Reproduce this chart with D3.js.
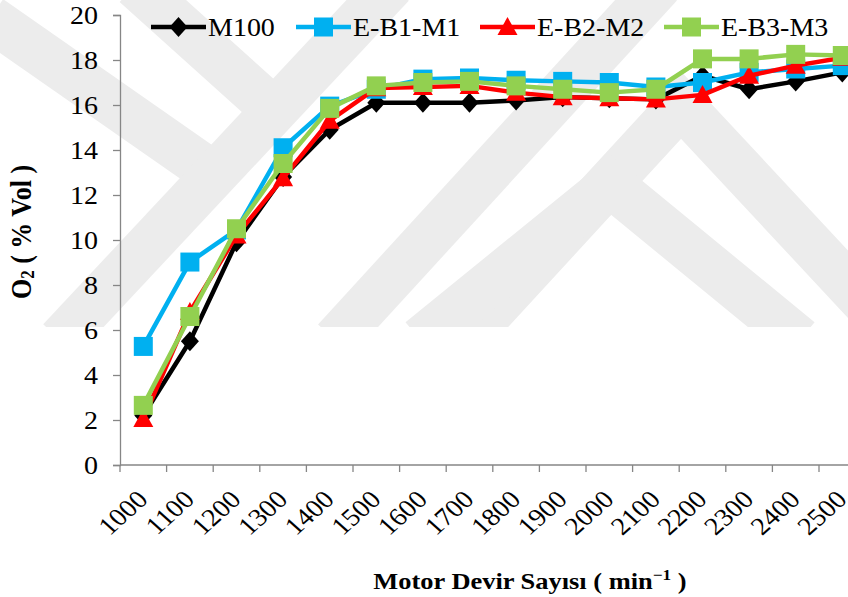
<!DOCTYPE html>
<html>
<head>
<meta charset="utf-8">
<script src="https://cdn.jsdelivr.net/npm/d3@7"></script>
<style>
  html, body { margin: 0; padding: 0; background: #fff; }
  svg { display: block; }
</style>
</head>
<body>
<svg id="chart" width="848" height="597"></svg>
<script>
// Engine speed categories (min^-1)
const categories = [1000, 1100, 1200, 1300, 1400, 1500, 1600, 1700, 1800, 1900, 2000, 2100, 2200, 2300, 2400, 2500];

// O2 concentration (% Vol) for each fuel blend
const m100  = [2.2, 5.5, 9.9, 12.8, 14.9, 16.1, 16.1, 16.1, 16.2, 16.35, 16.3, 16.25, 17.3, 16.7, 17.05, 17.45];
const eb1m1 = [5.27, 9.02, 10.45, 14.1, 15.95, 16.7, 17.15, 17.2, 17.1, 17.05, 17.0, 16.8, 17.0, 17.45, 17.6, 17.75];
const eb2m2 = [2.05, 6.8, 10.2, 12.75, 15.3, 16.75, 16.8, 16.85, 16.55, 16.35, 16.3, 16.25, 16.45, 17.3, 17.75, 18.1];
const eb3m3 = [2.65, 6.6, 10.5, 13.4, 15.85, 16.85, 17.0, 17.05, 16.85, 16.7, 16.55, 16.7, 18.05, 18.05, 18.25, 18.2];

const seriesNames = ["M100", "E-B1-M1", "E-B2-M2", "E-B3-M3"];
const yTicks = [0, 2, 4, 6, 8, 10, 12, 14, 16, 18, 20];

const series = [
  { name: seriesNames[0], values: m100,  color: "#000000", symbol: "diamond" },
  { name: seriesNames[1], values: eb1m1, color: "#00B0F0", symbol: "square" },
  { name: seriesNames[2], values: eb2m2, color: "#FF0000", symbol: "triangle" },
  { name: seriesNames[3], values: eb3m3, color: "#92D050", symbol: "square" }
];

const FONT = '"Liberation Serif"';
const svg = d3.select("#chart");
const W = 848, H = 597;
const stretch = 1.12;   // wide-set lettering

// background watermark bands
svg.append("clipPath").attr("id", "wmclip").append("rect")
  .attr("x", 0).attr("y", 0).attr("width", W).attr("height", 327);
const wm = svg.append("g").attr("fill", "none").attr("stroke", "#ececec")
  .attr("stroke-width", 46).attr("stroke-linejoin", "miter")
  .attr("clip-path", "url(#wmclip)");
const bands = [
  [[-10, 18], [215, 175]],
  [[60, 340], [392, -15]],
  [[135, -15], [285, 120]],
  [[335, 340], [660, -15]],
  [[465, 340], [681, 105], [900, 340]],
  [[420, 340], [611, 185], [800, 340]]
];
bands.forEach(b => wm.append("path").attr("d", d3.line()(b)));

// plot area
const x0 = 120, bandW = 46.6;
const x = d3.scaleBand().domain(categories).range([x0, x0 + bandW * categories.length]);
const y = d3.scaleLinear().domain([0, 20]).range([465, 15]);

// y axis
const yAxis = svg.append("g").attr("transform", `translate(${x0},0)`)
  .call(d3.axisLeft(y).tickValues(yTicks).tickSize(7).tickPadding(15).tickFormat(d3.format("d")));
yAxis.select(".domain").attr("stroke", "#868686").attr("stroke-width", 1.3);
yAxis.selectAll(".tick line").attr("stroke", "#868686").attr("stroke-width", 1.3);
yAxis.selectAll(".tick text")
  .attr("font-size", 25).style("font-family", FONT).attr("fill", "#000")
  .each(function () {
    const t = d3.select(this);
    const xx = +t.attr("x");
    t.attr("x", null).attr("transform", `translate(${xx},0) scale(${stretch},1)`);
  });

// x axis with ticks at category boundaries
const xAxisG = svg.append("g").attr("transform", `translate(0,${y(0)})`);
xAxisG.append("line").attr("x1", x0).attr("x2", W + 20).attr("stroke", "#868686").attr("stroke-width", 1.3);
xAxisG.selectAll("line.tk").data(categories).join("line").attr("class", "tk")
  .attr("x1", d => x(d)).attr("x2", d => x(d)).attr("y1", 0).attr("y2", 7)
  .attr("stroke", "#868686").attr("stroke-width", 1.3);
xAxisG.selectAll("text.lbl").data(categories).join("text").attr("class", "lbl")
  .attr("text-anchor", "end").attr("font-size", 25).style("font-family", FONT)
  .attr("transform", d => `translate(${x(d) + x.bandwidth() / 2 + 6},${36}) scale(${stretch},1) rotate(-45)`)
  .text(d => d);

// marker shapes
function drawMarker(g, kind, color) {
  if (kind === "diamond") {
    g.append("path").attr("d", "M0,-10 L9,0 L0,10 L-9,0 Z").attr("fill", color);
  } else if (kind === "square") {
    g.append("rect").attr("x", -9.5).attr("y", -9.5).attr("width", 19).attr("height", 19).attr("fill", color);
  } else {
    g.append("path").attr("d", "M0,-10 L10,8 L-10,8 Z").attr("fill", color);
  }
}

const cx = d => x(d) + x.bandwidth() / 2;
const line = d3.line().x((d, i) => cx(categories[i])).y(d => y(d));

series.forEach(s => {
  const g = svg.append("g");
  g.append("path").attr("d", line(s.values)).attr("fill", "none")
    .attr("stroke", s.color).attr("stroke-width", 4.5).attr("stroke-linejoin", "round");
  s.values.forEach((v, i) => {
    const m = g.append("g").attr("transform", `translate(${cx(categories[i])},${y(v)})`);
    drawMarker(m, s.symbol, s.color);
  });
});

// legend
const legendX = [151, 296, 480, 664];
series.forEach((s, i) => {
  const g = svg.append("g").attr("transform", `translate(${legendX[i]},27)`);
  g.append("line").attr("x1", 0).attr("x2", 55).attr("stroke", s.color).attr("stroke-width", 4.5);
  const m = g.append("g").attr("transform", "translate(27.5,0)");
  drawMarker(m, s.symbol, s.color);
  g.append("text").attr("transform", `translate(57,9) scale(${stretch},1)`)
    .attr("font-size", 25).style("font-family", FONT).text(s.name);
});

// axis titles
svg.append("text").attr("transform", `translate(530,589) scale(1.15,1)`)
  .attr("text-anchor", "middle").attr("font-size", 23).attr("font-weight", "bold").style("font-family", FONT)
  .html('Motor Devir Sayısı ( min<tspan font-size="15" dy="-9">−1</tspan><tspan dy="9"> )</tspan>');

svg.append("text").attr("transform", `translate(31,232) scale(${stretch},1) rotate(-90)`)
  .attr("text-anchor", "middle").attr("font-size", 26).attr("font-weight", "bold").style("font-family", FONT)
  .html('O<tspan font-size="17" dy="3">2</tspan><tspan dy="-3"> ( % Vol )</tspan>');
</script>
</body>
</html>
